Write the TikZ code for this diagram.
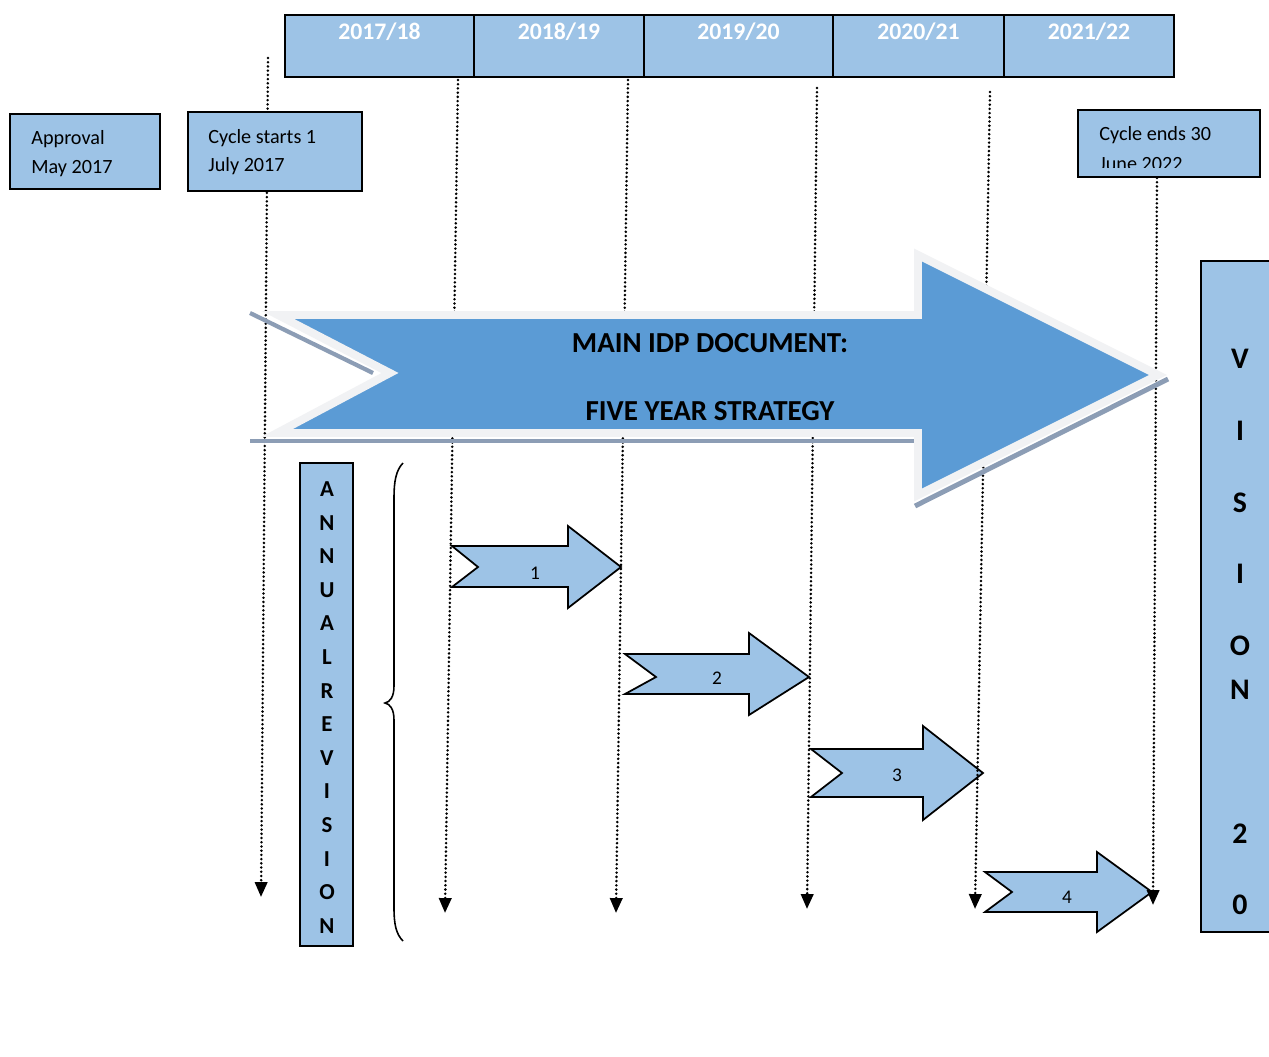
\documentclass[tikz,border=0pt]{standalone}
\usepackage{fontspec}
\setmainfont{Carlito}
\usetikzlibrary{arrows.meta}
\definecolor{lightblue}{HTML}{9DC3E6}
\definecolor{mainblue}{HTML}{5B9BD5}
\definecolor{shadowgrey}{HTML}{8C9DB5}
\definecolor{glowgrey}{HTML}{F1F2F4}
\begin{document}
\begin{tikzpicture}[x=0.02cm,y=-0.02cm,
  box/.style={draw=black, line width=1.1pt, fill=lightblue, inner sep=0pt},
  dotline/.style={line width=1.6pt, dash pattern=on 0pt off 2.4pt, line cap=round, -{Triangle[width=7pt,length=8.5pt]}},
  smallarrow/.style={draw=black, line width=1pt, fill=lightblue, line join=miter},
  yeartext/.style={text=white, font=\bfseries\fontsize{13.5}{15}\selectfont, inner sep=0pt},
  boxtext/.style={anchor=west, align=left, inner sep=0pt, font=\fontsize{11.5}{16.5}\selectfont},
  vletter/.style={font=\bfseries\fontsize{17}{19}\selectfont, inner sep=0pt},
  aletter/.style={font=\bfseries\fontsize{13}{15}\selectfont, inner sep=0pt},
  numtext/.style={font=\fontsize{11}{13}\selectfont, inner sep=0pt},
  maintext/.style={font=\bfseries\fontsize{16.5}{19}\selectfont, inner sep=0pt}]
\useasboundingbox[fill=white] (0,0) rectangle (1269,1056);

% small arrows
\draw[smallarrow] (452,546) -- (478,567) -- (452,587) -- (568,587) -- (568,608) -- (621,567) -- (568,526) -- (568,546) -- cycle;
\node[numtext] (n1) at (535,573) {1};
\draw[smallarrow] (625,654) -- (656,677) -- (625,694) -- (749,694) -- (749,715) -- (809,677) -- (749,633) -- (749,654) -- cycle;
\node[numtext] (n2) at (717,678) {2};
\draw[smallarrow] (811,749) -- (842,773) -- (811,797) -- (923,797) -- (923,820) -- (983,773) -- (923,726) -- (923,749) -- cycle;
\node[numtext] (n3) at (897,775) {3};
\draw[smallarrow] (985,872) -- (1012,892) -- (985,912) -- (1097,912) -- (1097,932) -- (1152,892) -- (1097,852) -- (1097,872) -- cycle;
\node[numtext] (n4) at (1067,897) {4};

% dotted lines
\coordinate (t1) at (268,58);   \coordinate (b1) at (261,897);
\coordinate (t2) at (458,80);   \coordinate (b2) at (445,913);
\coordinate (t3) at (628,80);   \coordinate (b3) at (616,913);
\coordinate (t4) at (817,88);   \coordinate (b4) at (807,909);
\coordinate (t5) at (990,92);   \coordinate (b5) at (975,909);
\coordinate (t6) at (1157,178); \coordinate (b6) at (1153,905);
\foreach \i in {1,...,6} \draw[dotline] (t\i) -- (b\i);

% big arrow shadow
\draw[shadowgrey, line width=2.4pt] (250,313) -- (373,373);
\draw[shadowgrey, line width=2.8pt] (250,441) -- (915,441);
\draw[shadowgrey, line width=2.8pt] (915,506) -- (1168,379);
% big arrow
\draw[glowgrey, line width=4.5pt, line join=miter, fill=mainblue]
  (278,315) -- (390,373) -- (277,433) -- (918,433) -- (918,495) -- (1158,375) -- (918,255) -- (918,315) -- cycle;
\node[maintext] (m1) at (710,343) {MAIN IDP DOCUMENT:};
\node[maintext] (m2) at (710,411) {FIVE YEAR STRATEGY};

% year header
\node[box, minimum width=3.78cm, minimum height=1.24cm] (y1) at (379.5,46) {};
\node[box, minimum width=3.40cm, minimum height=1.24cm] (y2) at (559,46) {};
\node[box, minimum width=3.78cm, minimum height=1.24cm] (y3) at (738.5,46) {};
\node[box, minimum width=3.42cm, minimum height=1.24cm] (y4) at (918.5,46) {};
\node[box, minimum width=3.40cm, minimum height=1.24cm] (y5) at (1089,46) {};
\node[yeartext] (y1t) at (379.5,32) {2017/18};
\node[yeartext] (y2t) at (559,32) {2018/19};
\node[yeartext] (y3t) at (738.5,32) {2019/20};
\node[yeartext] (y4t) at (918.5,32) {2020/21};
\node[yeartext] (y5t) at (1089,32) {2021/22};

% left boxes
\node[box, minimum width=3.0cm, minimum height=1.5cm] (approval) at (85,151.5) {};
\node[boxtext] (approvalt) at (31,154) {Approval\\May 2017};
\node[box, minimum width=3.48cm, minimum height=1.58cm] (cstart) at (275,151.5) {};
\node[boxtext, font=\fontsize{11.5}{16}\selectfont] (cstartt) at (208,152) {Cycle starts 1\\July 2017};

% cycle ends box (text clipped)
\node[box, minimum width=3.64cm, minimum height=1.34cm] (cend) at (1169,143.5) {};
\begin{scope}
  \clip (1080,112) rectangle (1258,167);
  \node[boxtext, anchor=north west, font=\fontsize{11.5}{17}\selectfont] (cendt) at (1099,126) {Cycle ends 30\\June 2022};
\end{scope}

% vision box
\draw[box] (1201,261) rectangle (1292,932);
\node[vletter] (v1) at (1240,359) {V};
\node[vletter] (v2) at (1240,431) {I};
\node[vletter] (v3) at (1240,503) {S};
\node[vletter] (v4) at (1240,574) {I};
\node[vletter] (v5) at (1240,646) {O};
\node[vletter] (v6) at (1240,690) {N};
\node[vletter] (v7) at (1240,834) {2};
\node[vletter] (v8) at (1240,905) {0};

% annual revision box
\node[box, minimum width=1.06cm, minimum height=9.66cm] (annual) at (326.5,704.5) {};
\foreach \ch [count=\k from 0] in {A,N,N,U,A,L,R,E,V,I,S,I,O,N}
  \node[aletter] (a\k) at (327,{489+33.6*\k}) {\ch};

% brace
\draw[line width=0.9pt] (403,463) .. controls (396,470) and (394,482) .. (394,497) -- (394,686)
  .. controls (394,697) and (390,702) .. (385,703) .. controls (390,704) and (394,709) .. (394,720)
  -- (394,908) .. controls (394,924) and (396,934) .. (403,941);
\end{tikzpicture}
\end{document}
